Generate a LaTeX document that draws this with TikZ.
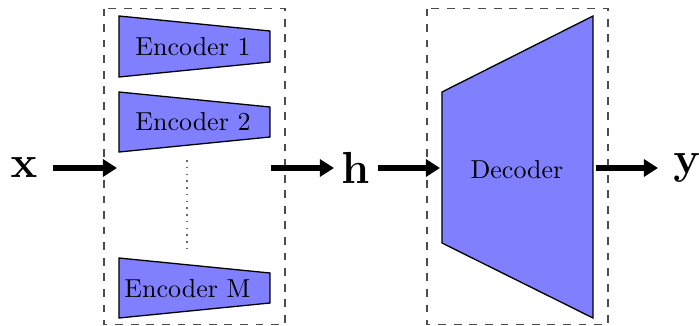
\documentclass[tikz,border=0pt]{standalone}
\usetikzlibrary{arrows.meta}
\begin{document}
\begin{tikzpicture}[x=0.385pt,y=-0.385pt,
  block/.style={draw=black,fill=blue!50,line width=0.5pt},
  frame/.style={draw=black!70,dashed,line width=0.5pt},
  flow/.style={line width=2.5pt,-{Triangle[length=5.4pt,width=6.5pt]}},
  lbl/.style={inner sep=0pt},
  big/.style={inner sep=0pt,font=\LARGE}]
\useasboundingbox (0,0) rectangle (699,326);
% frames
\draw[frame] (104,8.5) rectangle (285,324.5);
\draw[frame] (427,8.5) rectangle (608,324.5);
% encoders
\draw[block] (119,16) -- (270,31) -- (270,62) -- (119,77) -- cycle;
\draw[block] (119,92) -- (270,107) -- (270,137) -- (119,152) -- cycle;
\draw[block] (119,258) -- (270,273) -- (270,303) -- (119,318) -- cycle;
\node[lbl] (e1) at (193,47) {Encoder 1};
\node[lbl] (e2) at (193,122) {Encoder 2};
\node[lbl] (em) at (187.5,289) {Encoder M};
\coordinate (d1) at (187,160);
\coordinate (d2) at (187,250);
\draw[black!60,dotted,line width=0.6pt] (d1) -- (d2);
% decoder
\draw[block] (442,92) -- (593,16) -- (593,318) -- (442,243) -- cycle;
\node[lbl] (dec) at (517,170) {Decoder};
% labels
\node[big] (x) at (24,168) {$\mathbf{x}$};
\node[big] (h) at (355.5,168) {$\mathbf{h}$};
\node[big] (y) at (687,168) {$\mathbf{y}$};
% arrows
\coordinate (xs) at (53,168);
\coordinate (xe) at (117,168);
\coordinate (hs1) at (271,168);
\coordinate (he1) at (334,168);
\coordinate (hs2) at (378,168);
\coordinate (he2) at (440,168);
\coordinate (ys) at (596,168);
\coordinate (ye) at (658,168);
\draw[flow] (xs) -- (xe);
\draw[flow] (hs1) -- (he1);
\draw[flow] (hs2) -- (he2);
\draw[flow] (ys) -- (ye);
\end{tikzpicture}
\end{document}
